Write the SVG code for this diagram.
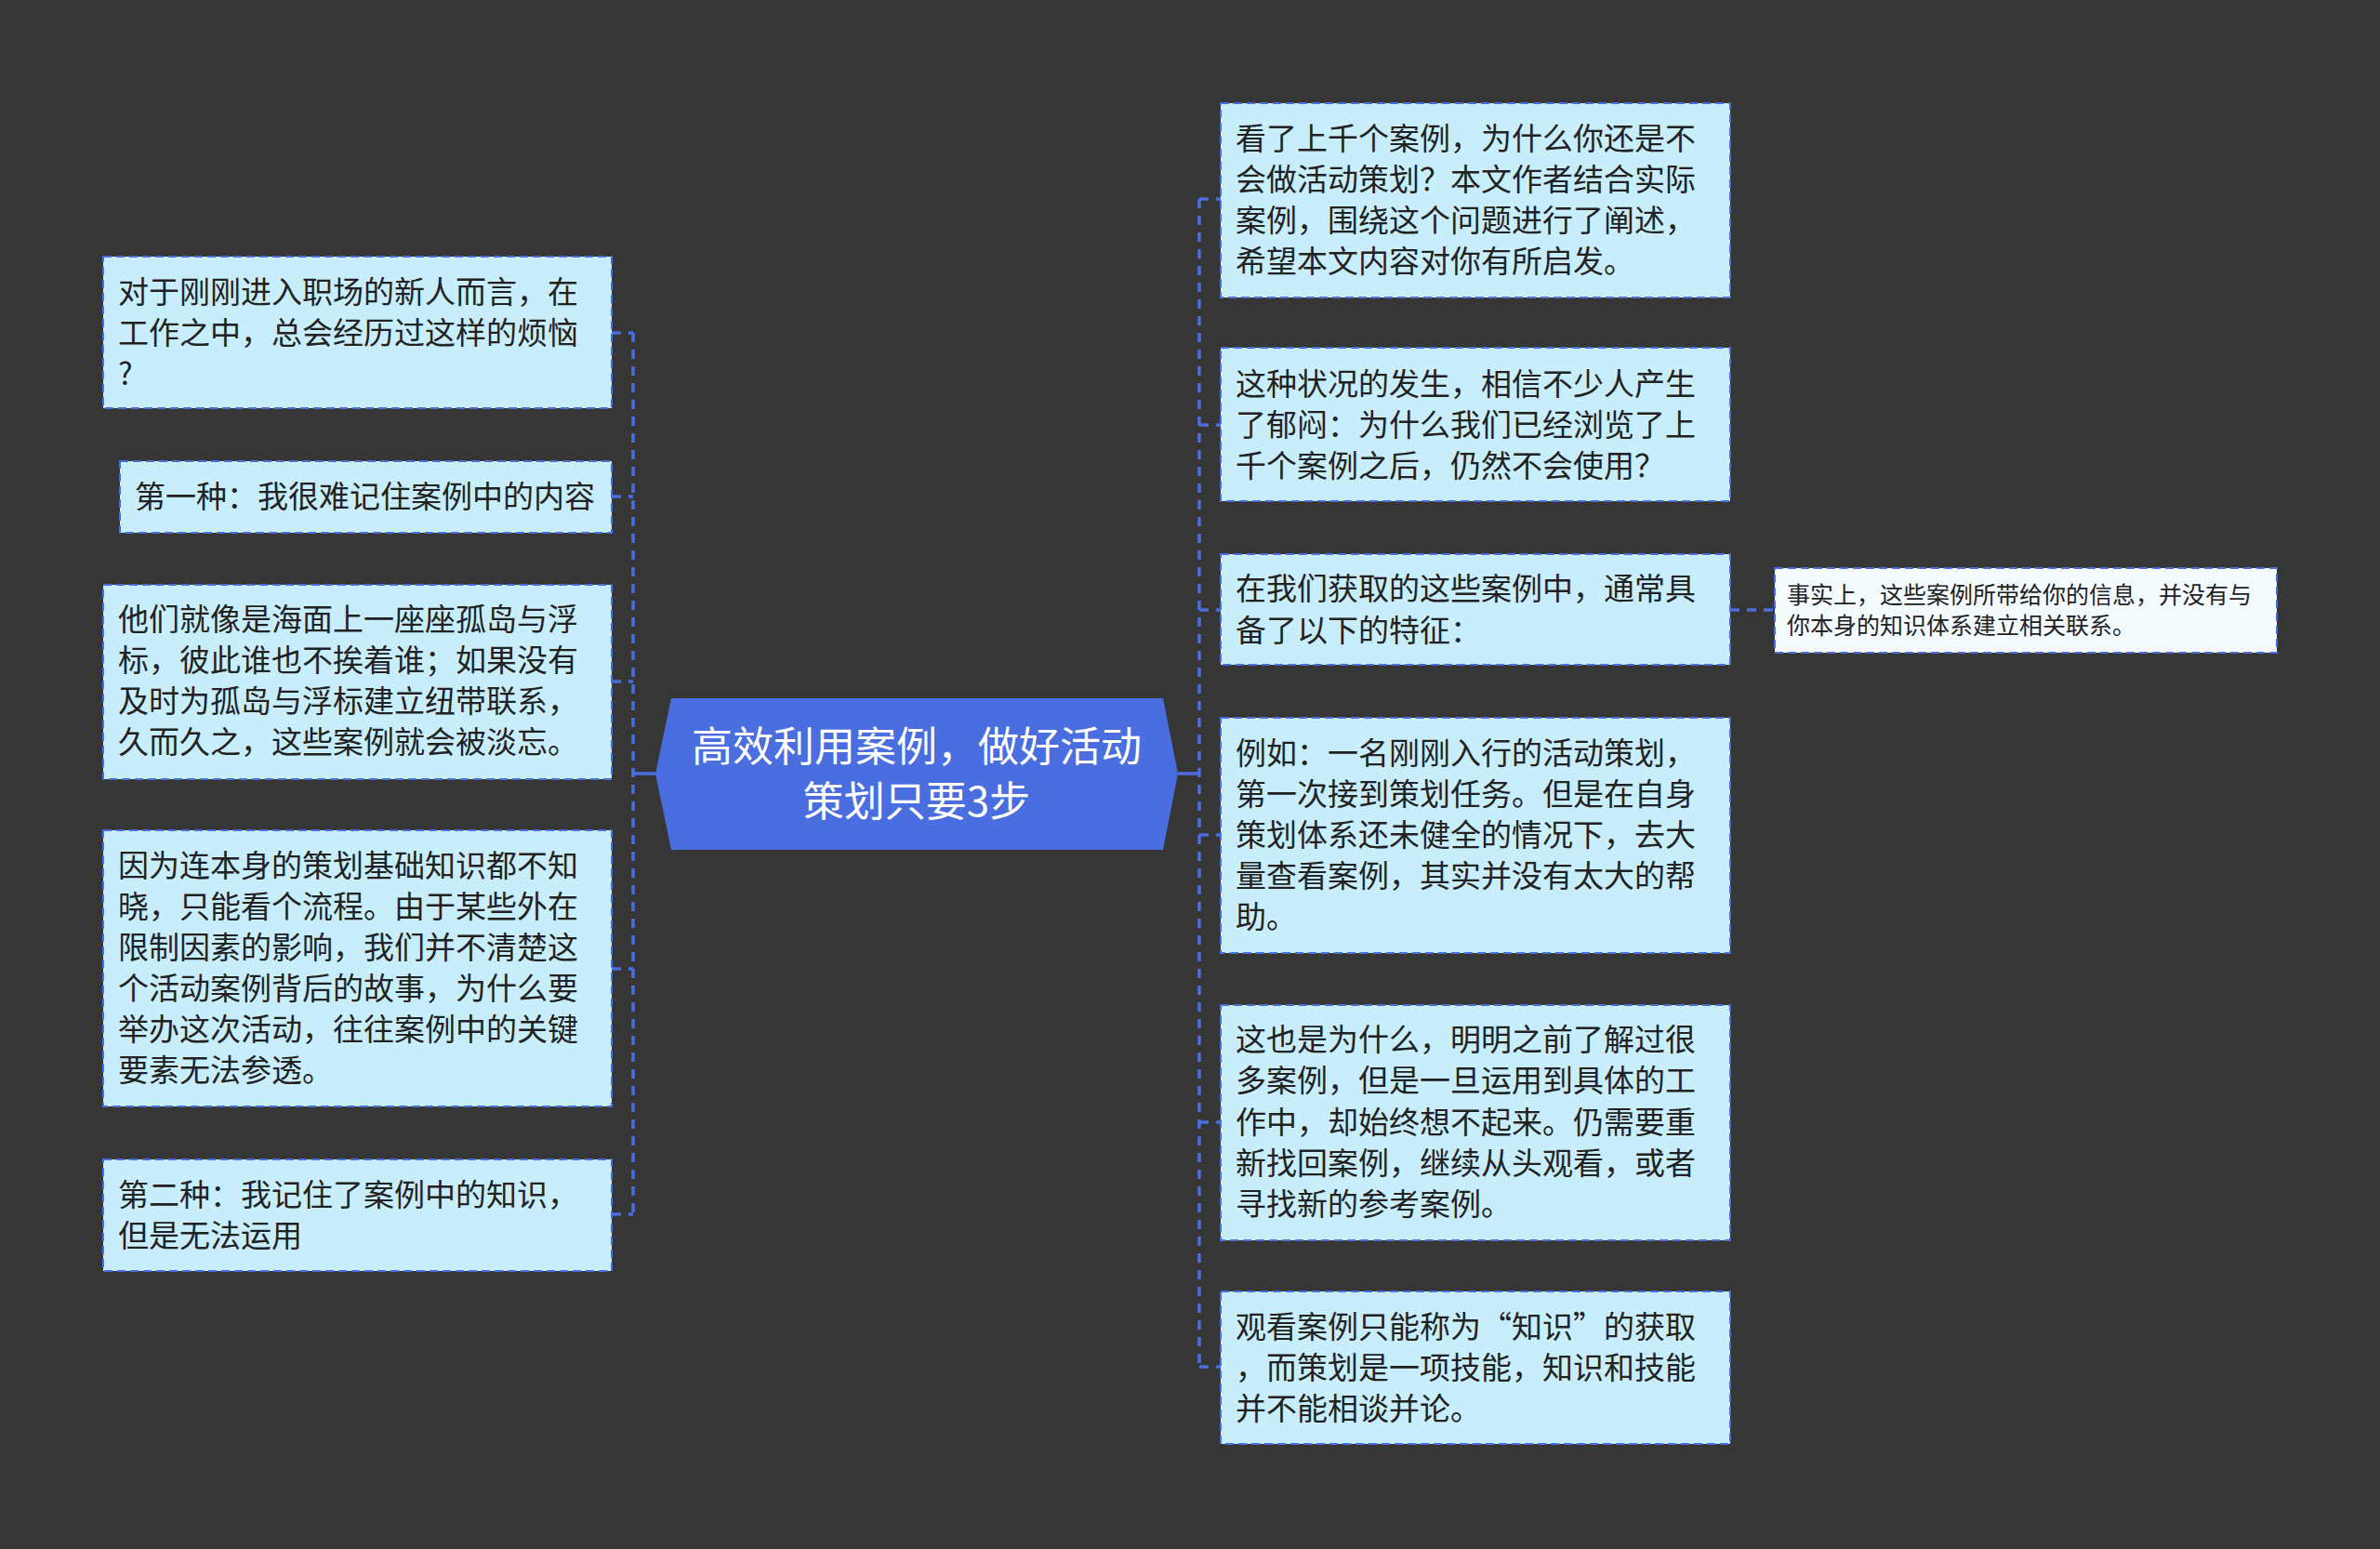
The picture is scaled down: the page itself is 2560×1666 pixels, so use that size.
<svg xmlns="http://www.w3.org/2000/svg" width="2560" height="1666" viewBox="0 0 2560 1666">
<style>
.bg{fill:#363636}
.box{fill:#c8eefc;stroke:#4a6ee0;stroke-width:2;stroke-dasharray:9 5}
.leaf{fill:#f3fbff;stroke:#4a6ee0;stroke-width:2;stroke-dasharray:9 5}
.t{font-family:"Noto Sans CJK SC","Noto Sans",sans-serif;font-size:33px;fill:#222}
.ts{font-family:"Noto Sans CJK SC","Noto Sans",sans-serif;font-size:25px;fill:#222}
.tc{font-family:"Noto Sans CJK SC","Noto Sans",sans-serif;font-size:44px;fill:#ffffff;text-anchor:middle}
.c{fill:none;stroke:#4a6ee0;stroke-width:3.5;stroke-dasharray:10 8}
.cs{fill:none;stroke:#4a6ee0;stroke-width:3.5}
</style>
<rect class="bg" x="0" y="0" width="2560" height="1666"/>
<g id="connectors">
<path class="cs" d="M705 832 H681"/>
<path class="c" d="M681 358 V1306"/>
<path class="c" d="M658 358 H681"/>
<path class="c" d="M658 534 H681"/>
<path class="c" d="M658 733 H681"/>
<path class="c" d="M658 1042 H681"/>
<path class="c" d="M658 1306 H681"/>
<path class="cs" d="M1267 832 H1290"/>
<path class="c" d="M1290 214 V1470"/>
<path class="c" d="M1290 214 H1313"/>
<path class="c" d="M1290 457 H1313"/>
<path class="c" d="M1290 656 H1313"/>
<path class="c" d="M1290 898 H1313"/>
<path class="c" d="M1290 1207 H1313"/>
<path class="c" d="M1290 1470 H1313"/>
<path class="c" d="M1861 656 H1909"/>
</g>
<g id="root">
<polygon points="705,832 722,751 1251,751 1267,832 1251,914 722,914" fill="#4a6ee0"/>
<text class="tc" x="986" y="819">高效利用案例，做好活动</text>
<text class="tc" x="986" y="878">策划只要3步</text>
</g>
<g id="l1">
<rect class="box" x="111" y="276" width="547" height="163"/>
<text class="t" x="127" y="326">对于刚刚进入职场的新人而言，在</text>
<text class="t" x="127" y="370">工作之中，总会经历过这样的烦恼</text>
<text class="t" x="127" y="414">?</text>
</g>
<g id="l2">
<rect class="box" x="129" y="496" width="529" height="77"/>
<text class="t" x="145" y="546">第一种：我很难记住案例中的内容</text>
</g>
<g id="l3">
<rect class="box" x="111" y="629" width="547" height="209"/>
<text class="t" x="127" y="678">他们就像是海面上一座座孤岛与浮</text>
<text class="t" x="127" y="722">标，彼此谁也不挨着谁；如果没有</text>
<text class="t" x="127" y="766">及时为孤岛与浮标建立纽带联系，</text>
<text class="t" x="127" y="810">久而久之，这些案例就会被淡忘。</text>
</g>
<g id="l4">
<rect class="box" x="111" y="893" width="547" height="297"/>
<text class="t" x="127" y="943">因为连本身的策划基础知识都不知</text>
<text class="t" x="127" y="987">晓，只能看个流程。由于某些外在</text>
<text class="t" x="127" y="1031">限制因素的影响，我们并不清楚这</text>
<text class="t" x="127" y="1075">个活动案例背后的故事，为什么要</text>
<text class="t" x="127" y="1119">举办这次活动，往往案例中的关键</text>
<text class="t" x="127" y="1163">要素无法参透。</text>
</g>
<g id="l5">
<rect class="box" x="111" y="1247" width="547" height="120"/>
<text class="t" x="127" y="1297">第二种：我记住了案例中的知识，</text>
<text class="t" x="127" y="1341">但是无法运用</text>
</g>
<g id="r1">
<rect class="box" x="1313" y="111" width="548" height="209"/>
<text class="t" x="1329" y="161">看了上千个案例，为什么你还是不</text>
<text class="t" x="1329" y="205">会做活动策划？本文作者结合实际</text>
<text class="t" x="1329" y="249">案例，围绕这个问题进行了阐述，</text>
<text class="t" x="1329" y="293">希望本文内容对你有所启发。</text>
</g>
<g id="r2">
<rect class="box" x="1313" y="374" width="548" height="165"/>
<text class="t" x="1329" y="425">这种状况的发生，相信不少人产生</text>
<text class="t" x="1329" y="469">了郁闷：为什么我们已经浏览了上</text>
<text class="t" x="1329" y="513">千个案例之后，仍然不会使用？</text>
</g>
<g id="r3">
<rect class="box" x="1313" y="596" width="548" height="119"/>
<text class="t" x="1329" y="645">在我们获取的这些案例中，通常具</text>
<text class="t" x="1329" y="690">备了以下的特征：</text>
</g>
<g id="r3a">
<rect class="leaf" x="1909" y="611" width="540" height="91"/>
<text class="ts" x="1922" y="649">事实上，这些案例所带给你的信息，并没有与</text>
<text class="ts" x="1922" y="682">你本身的知识体系建立相关联系。</text>
</g>
<g id="r4">
<rect class="box" x="1313" y="772" width="548" height="253"/>
<text class="t" x="1329" y="822">例如：一名刚刚入行的活动策划，</text>
<text class="t" x="1329" y="866">第一次接到策划任务。但是在自身</text>
<text class="t" x="1329" y="910">策划体系还未健全的情况下，去大</text>
<text class="t" x="1329" y="954">量查看案例，其实并没有太大的帮</text>
<text class="t" x="1329" y="998">助。</text>
</g>
<g id="r5">
<rect class="box" x="1313" y="1081" width="548" height="253"/>
<text class="t" x="1329" y="1130">这也是为什么，明明之前了解过很</text>
<text class="t" x="1329" y="1174">多案例，但是一旦运用到具体的工</text>
<text class="t" x="1329" y="1219">作中，却始终想不起来。仍需要重</text>
<text class="t" x="1329" y="1263">新找回案例，继续从头观看，或者</text>
<text class="t" x="1329" y="1307">寻找新的参考案例。</text>
</g>
<g id="r6">
<rect class="box" x="1313" y="1389" width="548" height="164"/>
<text class="t" x="1329" y="1439">观看案例只能称为“知识”的获取</text>
<text class="t" x="1329" y="1483">，而策划是一项技能，知识和技能</text>
<text class="t" x="1329" y="1527">并不能相谈并论。</text>
</g>
</svg>
